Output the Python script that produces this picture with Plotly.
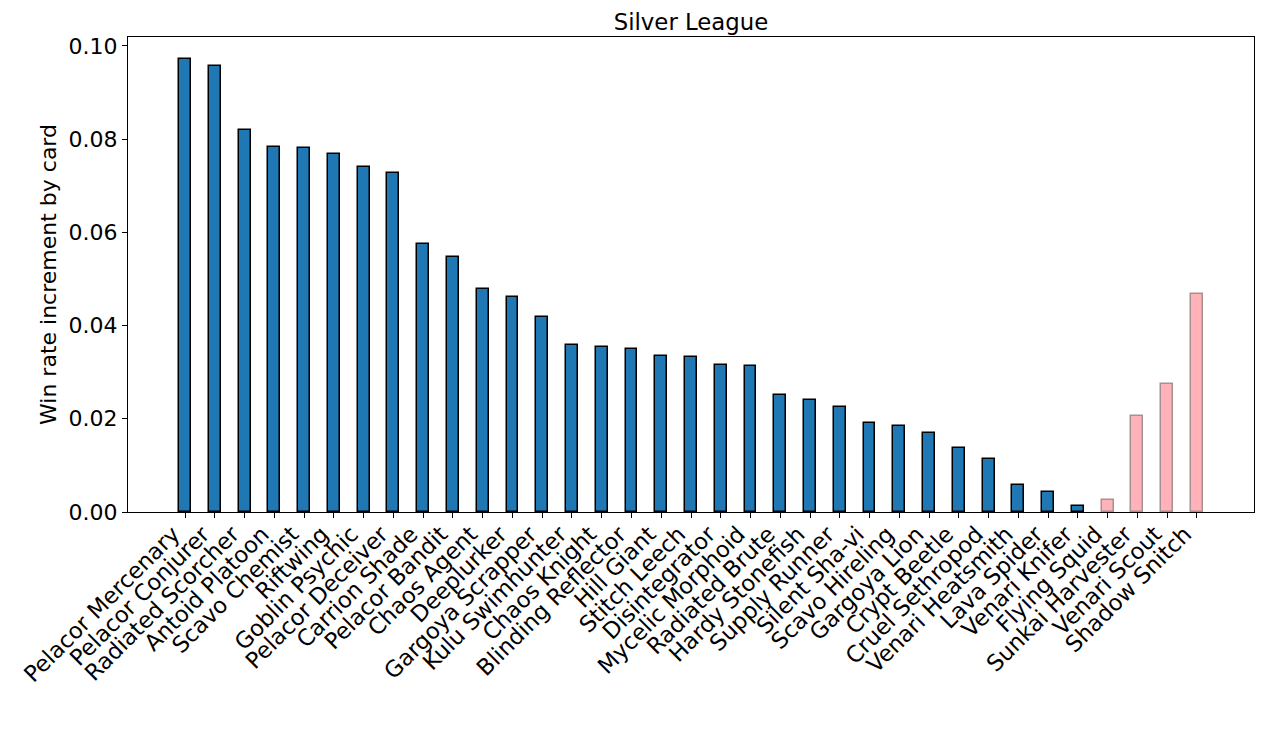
import plotly.graph_objects as go

cards = ["Pelacor Mercenary", "Pelacor Conjurer", "Radiated Scorcher", "Antoid Platoon",
         "Scavo Chemist", "Riftwing", "Goblin Psychic", "Pelacor Deceiver", "Carrion Shade",
         "Pelacor Bandit", "Chaos Agent", "Deeplurker", "Gargoya Scrapper", "Kulu Swimhunter",
         "Chaos Knight", "Blinding Reflector", "Hill Giant", "Stitch Leech", "Disintegrator",
         "Mycelic Morphoid", "Radiated Brute", "Hardy Stonefish", "Supply Runner", "Silent Sha-vi",
         "Scavo Hireling", "Gargoya Lion", "Crypt Beetle", "Cruel Sethropod", "Venari Heatsmith",
         "Lava Spider", "Venari Knifer", "Flying Squid", "Sunkai Harvester", "Venari Scout",
         "Shadow Snitch"]
values = [0.0972, 0.0957, 0.0820, 0.0783, 0.0781, 0.0768, 0.0740, 0.0727, 0.0575,
          0.0547, 0.0479, 0.0461, 0.0418, 0.0358, 0.0354, 0.0350, 0.0335, 0.0333, 0.0315,
          0.0313, 0.0251, 0.0240, 0.0225, 0.0191, 0.0185, 0.0170, 0.0137, 0.0114, 0.0058,
          0.0043, 0.0013, 0.0026, 0.0206, 0.0275, 0.0468]
negative = [False] * 31 + [True] * 4

x = list(range(len(cards)))
fill = ["#ffb3b8" if n else "#1f77b4" for n in negative]
edge = ["#a89090" if n else "black" for n in negative]

fig = go.Figure(go.Bar(
    x=x, y=values, width=0.4,
    marker=dict(color=fill, line=dict(color=edge, width=1.5)),
))

font = "DejaVu Sans, sans-serif"
W, H = 1264, 715
fig.update_layout(
    width=W, height=H,
    margin=dict(l=120, r=18, t=29, b=211),
    paper_bgcolor="white", plot_bgcolor="white",
    showlegend=False,
    font=dict(family=font, size=22, color="black"),
    title=dict(text="Silver League", x=0.5, xanchor="center", xref="paper",
               y=1 - 14 / H, yanchor="middle", font=dict(size=22.8, family=font)),
    bargap=0,
)
fig.update_xaxes(
    range=[-1.92, 35.92], tickmode="array", tickvals=x, ticktext=cards, tickangle=-45,
    ticks="outside", ticklen=5, tickcolor="black", showline=True, linecolor="black",
    linewidth=1, mirror=True, showgrid=False, zeroline=False, tickfont=dict(size=22.6),
    automargin=False, ticklabelstandoff=-6, ticklabelshift=-12,
)
fig.update_yaxes(
    range=[0, 0.1019], tickvals=[0, 0.02, 0.04, 0.06, 0.08, 0.10], tickformat=".2f",
    ticks="outside", ticklen=5, tickcolor="black", showline=True, linecolor="black",
    linewidth=1, mirror=True, showgrid=False, zeroline=False, tickfont=dict(size=22),
    title=dict(text="Win rate increment by card", font=dict(size=22), standoff=5),
    automargin=False,
)
fig.write_html("out.html")
